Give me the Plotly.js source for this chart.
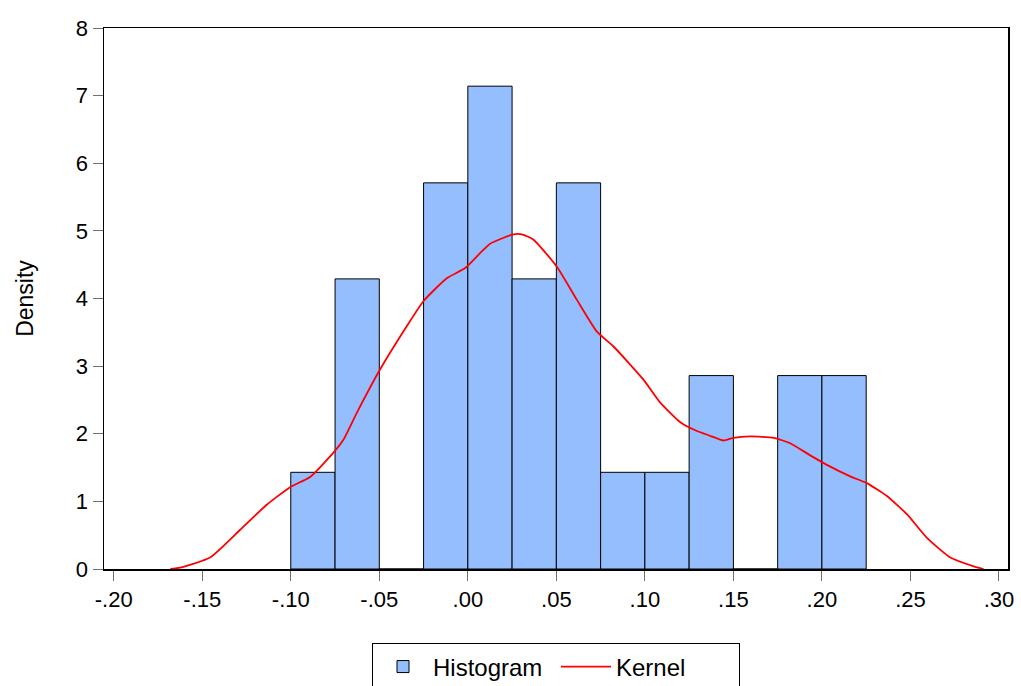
<!DOCTYPE html>
<html>
<head>
<meta charset="utf-8">
<script src="https://cdn.plot.ly/plotly-3.0.1.min.js"></script>
<style>html,body{margin:0;padding:0;background:#fff;}#chart{width:1021px;height:686px;}</style>
</head>
<body>
<div id="chart"></div>
<script>
// Histogram bins (left edges), bin width 0.025
const binStarts = [-0.100, -0.075, -0.050, -0.025, 0.000, 0.025, 0.050, 0.075, 0.100, 0.125, 0.150, 0.175, 0.200];
const binDensity = [1.43, 4.29, 0, 5.71, 7.14, 4.29, 5.71, 1.43, 1.43, 2.86, 0, 2.86, 2.86];
const binWidth = 0.025;

// Kernel density curve
const kernelX = [-0.168, -0.1625, -0.1456, -0.1286, -0.1136, -0.1004, -0.0891, -0.0759, -0.0703, -0.0627, -0.0496, -0.0345, -0.0251, -0.0119, -0.0015, 0.0069, 0.0126, 0.0258, 0.0305, 0.0371, 0.0503, 0.0616, 0.0729, 0.0823, 0.0992, 0.1087, 0.1200, 0.1294, 0.1369, 0.1444, 0.1501, 0.1595, 0.1727, 0.1821, 0.1934, 0.2028, 0.2160, 0.2254, 0.2367, 0.2480, 0.2593, 0.2725, 0.2857, 0.2913];
const kernelY = [0.0, 0.02, 0.17, 0.58, 0.95, 1.21, 1.36, 1.72, 1.91, 2.31, 2.95, 3.59, 3.96, 4.30, 4.45, 4.67, 4.81, 4.95, 4.95, 4.87, 4.47, 3.98, 3.51, 3.29, 2.80, 2.46, 2.17, 2.04, 1.97, 1.90, 1.94, 1.96, 1.94, 1.86, 1.68, 1.54, 1.37, 1.27, 1.08, 0.81, 0.46, 0.17, 0.04, 0.0];

// Axis ticks
const xTickVals = [-0.20, -0.15, -0.10, -0.05, 0.00, 0.05, 0.10, 0.15, 0.20, 0.25, 0.30];
const xTickText = ['-.20', '-.15', '-.10', '-.05', '.00', '.05', '.10', '.15', '.20', '.25', '.30'];
const yTickVals = [0, 1, 2, 3, 4, 5, 6, 7, 8];

const binCenters = binStarts.map(s => s + binWidth / 2);

const traces = [
  {
    type: 'bar',
    name: 'Histogram',
    x: binCenters,
    y: binDensity,
    width: binStarts.map(() => binWidth),
    marker: {color: '#95BEFE', line: {color: '#000000', width: 1}},
    hoverinfo: 'x+y'
  },
  {
    type: 'scatter',
    mode: 'lines',
    name: 'Kernel',
    x: kernelX,
    y: kernelY,
    line: {color: '#FF0000', width: 1.8, shape: 'spline', smoothing: 0.5}
  }
];

const layout = {
  width: 1021,
  height: 686,
  margin: {l: 104, r: 13, t: 28, b: 117, autoexpand: false},
  paper_bgcolor: '#ffffff',
  plot_bgcolor: '#ffffff',
  font: {family: 'Liberation Sans, Arial, sans-serif', color: '#000000', size: 22},
  bargap: 0,
  showlegend: true,
  legend: {
    orientation: 'h',
    x: 0.5, xanchor: 'center',
    yref: 'container',
    y: 0.062, yanchor: 'top',
    bordercolor: '#000000', borderwidth: 1,
    font: {size: 24},
    itemwidth: 50,
    entrywidth: 118,
    traceorder: 'normal'
  },
  xaxis: {
    range: [-0.2055, 0.3051],
    tickvals: xTickVals,
    ticktext: xTickText,
    ticks: 'outside', ticklen: 10, tickcolor: '#707070', tickwidth: 1,
    showgrid: false, zeroline: false,
    showline: true, linecolor: '#000000', linewidth: 1.5, mirror: true,
    tickfont: {size: 22}
  },
  yaxis: {
    range: [0, 8],
    tickvals: yTickVals,
    ticks: 'outside', ticklen: 10, tickcolor: '#707070', tickwidth: 1,
    showgrid: false, zeroline: false,
    showline: true, linecolor: '#000000', linewidth: 1.5, mirror: true,
    tickfont: {size: 22},
    title: {text: 'Density', font: {size: 23}, standoff: 36}
  }
};

Plotly.newPlot('chart', traces, layout, {displayModeBar: false, staticPlot: true});
</script>
</body>
</html>
